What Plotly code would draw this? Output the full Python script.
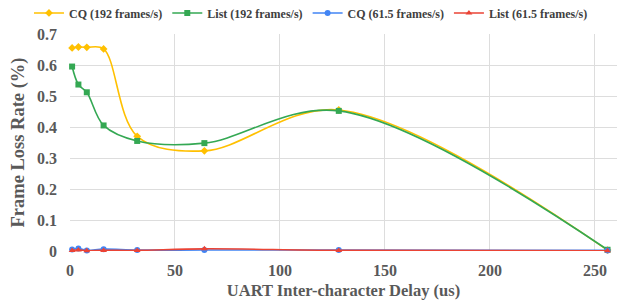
import plotly.graph_objects as go

delay = [1, 4, 8, 16, 32, 64, 128, 256]
cq_192 = [0.655, 0.658, 0.657, 0.652, 0.37, 0.323, 0.455, 0.003]
list_192 = [0.595, 0.537, 0.512, 0.405, 0.355, 0.348, 0.452, 0.004]
cq_615 = [0.005, 0.008, 0.002, 0.006, 0.003, 0.003, 0.003, 0.002]
list_615 = [0.002, 0.003, 0.001, 0.002, 0.002, 0.007, 0.002, 0.001]

series = [
    ("CQ (192 frames/s)", cq_192, "#FFC000", "diamond"),
    ("List (192 frames/s)", list_192, "#34A853", "square"),
    ("CQ (61.5 frames/s)", cq_615, "#4285F4", "circle"),
    ("List (61.5 frames/s)", list_615, "#EA4335", "triangle-up"),
]

fig = go.Figure()
for name, vals, color, sym in series:
    fig.add_trace(go.Scatter(
        x=delay, y=vals, name=name, mode="lines+markers",
        line=dict(color=color, width=1.6, shape="spline", smoothing=1.0),
        marker=dict(color=color, symbol=sym, size=6),
        cliponaxis=False,
    ))

ff = "Liberation Serif"
fig.update_layout(
    width=625, height=301,
    margin=dict(l=62, r=16, t=26, b=58, autoexpand=False),
    paper_bgcolor="white", plot_bgcolor="white",
    font=dict(family=ff, color="#595959", size=15),
    legend=dict(orientation="h", x=-0.075, xanchor="left", y=1.097, yanchor="middle",
                font=dict(size=12, family=ff, color="#404040", weight="bold"),
                itemwidth=30, tracegroupgap=0, bgcolor="rgba(0,0,0,0)"),
    xaxis=dict(range=[0, 260.5], tickvals=[0, 50, 100, 150, 200, 250],
               showgrid=True, gridcolor="#DDDDDD", gridwidth=1.2, zeroline=False,
               showline=False, ticks="", ticklabelstandoff=8,
               tickfont=dict(size=16, family=ff, color="#595959", weight="bold"),
               title=dict(text="UART Inter-character Delay (us)", standoff=6,
                          font=dict(size=16.5, family=ff, color="#595959", weight="bold"))),
    yaxis=dict(range=[0, 0.7], tickvals=[0, 0.1, 0.2, 0.3, 0.4, 0.5, 0.6, 0.7],
               ticktext=["0", "0.1", "0.2", "0.3", "0.4", "0.5", "0.6", "0.7"],
               showgrid=True, gridcolor="#DDDDDD", gridwidth=1.2, zeroline=False,
               showline=False, ticks="", ticklabelstandoff=12,
               tickfont=dict(size=16, family=ff, color="#595959", weight="bold"),
               title=dict(text="Frame Loss Rate (%)", standoff=10,
                          font=dict(size=18.5, family=ff, color="#595959", weight="bold"))),
)
fig.write_html("out.html")
